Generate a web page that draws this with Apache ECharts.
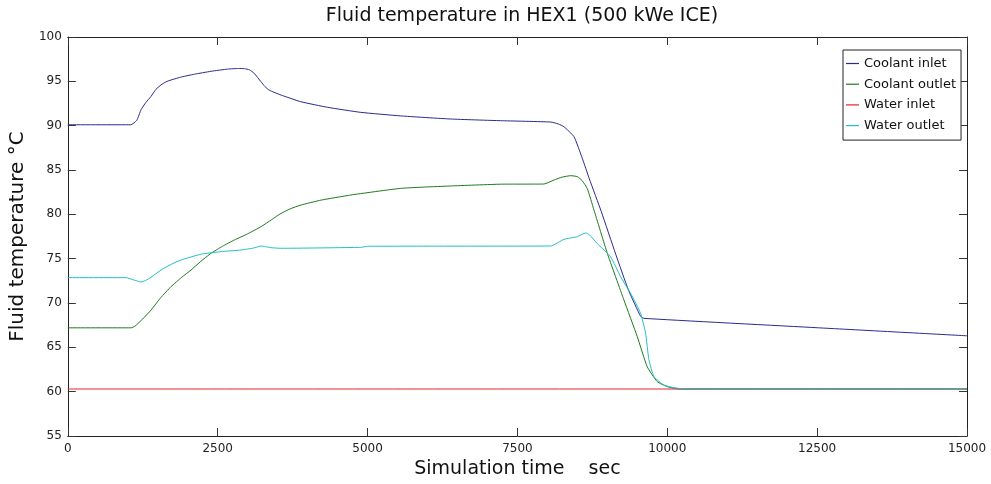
<!DOCTYPE html>
<html>
<head>
<meta charset="utf-8">
<title>Fluid temperature in HEX1</title>
<script src="https://cdn.jsdelivr.net/npm/echarts@6/dist/echarts.min.js"></script>
<style>
  html, body { margin: 0; padding: 0; background: #fff; }
  #chart { width: 991px; height: 484px; }
</style>
</head>
<body>
<div id="chart"></div>
<script>
// Time samples (s) and temperatures (°C) for each stream of HEX1
const coolantInletT = [0, 1050, 1150, 1222, 1300, 1388, 1470, 1555, 1640, 1722, 1900, 2110, 2388, 2667, 2850, 2944, 3030, 3110, 3222, 3290, 3360, 3555, 3888, 4333, 4888, 5555, 6388, 7222, 8055, 8180, 8277, 8444, 8583, 8700, 8900, 9140, 9350, 9555, 9611, 12500, 15000];
const coolantInletV = [90.1, 90.1, 90.6, 91.8, 92.6, 93.3, 94.1, 94.6, 94.95, 95.15, 95.5, 95.8, 96.13, 96.38, 96.45, 96.43, 96.3, 95.9, 94.96, 94.4, 94.0, 93.46, 92.7, 92.07, 91.5, 91.1, 90.75, 90.56, 90.41, 90.2, 89.88, 88.76, 86.3, 84.0, 80.3, 75.5, 71.5, 68.5, 68.27, 67.21, 66.3];

const coolantOutletT = [0, 1055, 1122, 1250, 1388, 1550, 1722, 1900, 2055, 2220, 2388, 2580, 2777, 3000, 3222, 3400, 3555, 3720, 3888, 4222, 4722, 5555, 6388, 7222, 7944, 8110, 8250, 8388, 8500, 8580, 8666, 8777, 9000, 9277, 9500, 9666, 9833, 10000, 10200, 15000];
const coolantOutletV = [67.2, 67.2, 67.4, 68.2, 69.2, 70.6, 71.84, 72.9, 73.72, 74.7, 75.6, 76.4, 77.1, 77.8, 78.6, 79.4, 80.1, 80.65, 81.05, 81.6, 82.18, 82.93, 83.2, 83.4, 83.42, 83.87, 84.2, 84.36, 84.25, 83.8, 82.9, 80.5, 75.6, 70.34, 66.2, 62.8, 61.13, 60.56, 60.3, 60.3];

const waterInletT = [0, 15000];
const waterInletV = [60.3, 60.3];

const waterOutletT = [0, 972, 1100, 1222, 1300, 1388, 1555, 1720, 1888, 2222, 2555, 2888, 3100, 3222, 3300, 3388, 3555, 4888, 5000, 8055, 8277, 8500, 8638, 8700, 8833, 9055, 9222, 9388, 9555, 9638, 9694, 9777, 9944, 10111, 10300, 15000];
const waterOutletV = [72.86, 72.86, 72.6, 72.37, 72.55, 72.9, 73.72, 74.35, 74.85, 75.5, 75.79, 75.98, 76.2, 76.43, 76.35, 76.24, 76.17, 76.28, 76.4, 76.43, 77.18, 77.48, 77.9, 77.7, 76.7, 75.2, 72.97, 71.1, 68.84, 66.6, 63.6, 61.7, 60.75, 60.45, 60.3, 60.3];

const seriesNames = ['Coolant inlet', 'Coolant outlet', 'Water inlet', 'Water outlet'];
const seriesColors = ['#2a2a8c', '#1f7a1f', '#e3242b', '#22bfc6'];

const xTicks = { min: 0, max: 15000, step: 2500 };
const yTicks = { min: 55, max: 100, step: 5 };

const pairs = (ts, vs) => ts.map((t, i) => [t, vs[i]]);
const seriesData = [
  pairs(coolantInletT, coolantInletV),
  pairs(coolantOutletT, coolantOutletV),
  pairs(waterInletT, waterInletV),
  pairs(waterOutletT, waterOutletV)
];

const FONT = 'DejaVu Sans, Verdana, sans-serif';
const axisLine = { show: true, onZero: false, lineStyle: { color: '#222', width: 1 } };
const tick = { show: true, inside: true, length: 8, lineStyle: { color: '#333', width: 1 } };
const plain = v => String(v);

const chart = echarts.init(document.getElementById('chart'), null, { renderer: 'canvas' });
chart.setOption({
  animation: false,
  backgroundColor: '#fff',
  title: {
    text: 'Fluid temperature in HEX1 (500 kWe ICE)',
    left: 517, top: 2, textAlign: 'center',
    textStyle: { fontFamily: FONT, fontSize: 19, fontWeight: 'normal', color: '#111' }
  },
  grid: { left: 66.7, right: 24, top: 37, bottom: 48 },
  legend: {
    data: seriesNames,
    orient: 'vertical',
    left: 843, top: 50,
    padding: [7, 5, 8, 3],
    icon: 'rect',
    itemWidth: 13, itemHeight: 1.2, itemGap: 7.7,
    backgroundColor: '#fff',
    borderColor: '#222', borderWidth: 1, borderRadius: 0,
    textStyle: { fontFamily: FONT, fontSize: 13, color: '#111' }
  },
  xAxis: [
    {
      type: 'value', position: 'bottom',
      min: xTicks.min, max: xTicks.max, interval: xTicks.step,
      name: 'Simulation time    sec', nameLocation: 'middle', nameGap: 22,
      nameTextStyle: { fontFamily: FONT, fontSize: 19, color: '#111' },
      axisLine, axisTick: tick,
      axisLabel: { fontFamily: FONT, fontSize: 12, color: '#222', margin: 7, formatter: plain },
      splitLine: { show: false }
    },
    {
      type: 'value', position: 'top',
      min: xTicks.min, max: xTicks.max, interval: xTicks.step,
      axisLine, axisTick: tick, axisLabel: { show: false }, splitLine: { show: false }
    }
  ],
  yAxis: [
    {
      type: 'value', position: 'left',
      min: yTicks.min, max: yTicks.max, interval: yTicks.step,
      name: 'Fluid temperature °C', nameLocation: 'middle', nameGap: 39,
      nameTextStyle: { fontFamily: FONT, fontSize: 20, color: '#111' },
      axisLine, axisTick: tick,
      axisLabel: { fontFamily: FONT, fontSize: 12, color: '#222', margin: 6, formatter: plain },
      splitLine: { show: false }
    },
    {
      type: 'value', position: 'right',
      min: yTicks.min, max: yTicks.max, interval: yTicks.step,
      axisLine, axisTick: tick, axisLabel: { show: false }, splitLine: { show: false }
    }
  ],
  series: seriesNames.map((name, i) => ({
    name,
    type: 'line',
    xAxisIndex: 0, yAxisIndex: 0,
    data: seriesData[i],
    symbol: 'none',
    smooth: 0.15,
    color: seriesColors[i],
    lineStyle: { width: 1, color: seriesColors[i] },
    z: 2 + i
  }))
});
</script>
</body>
</html>
